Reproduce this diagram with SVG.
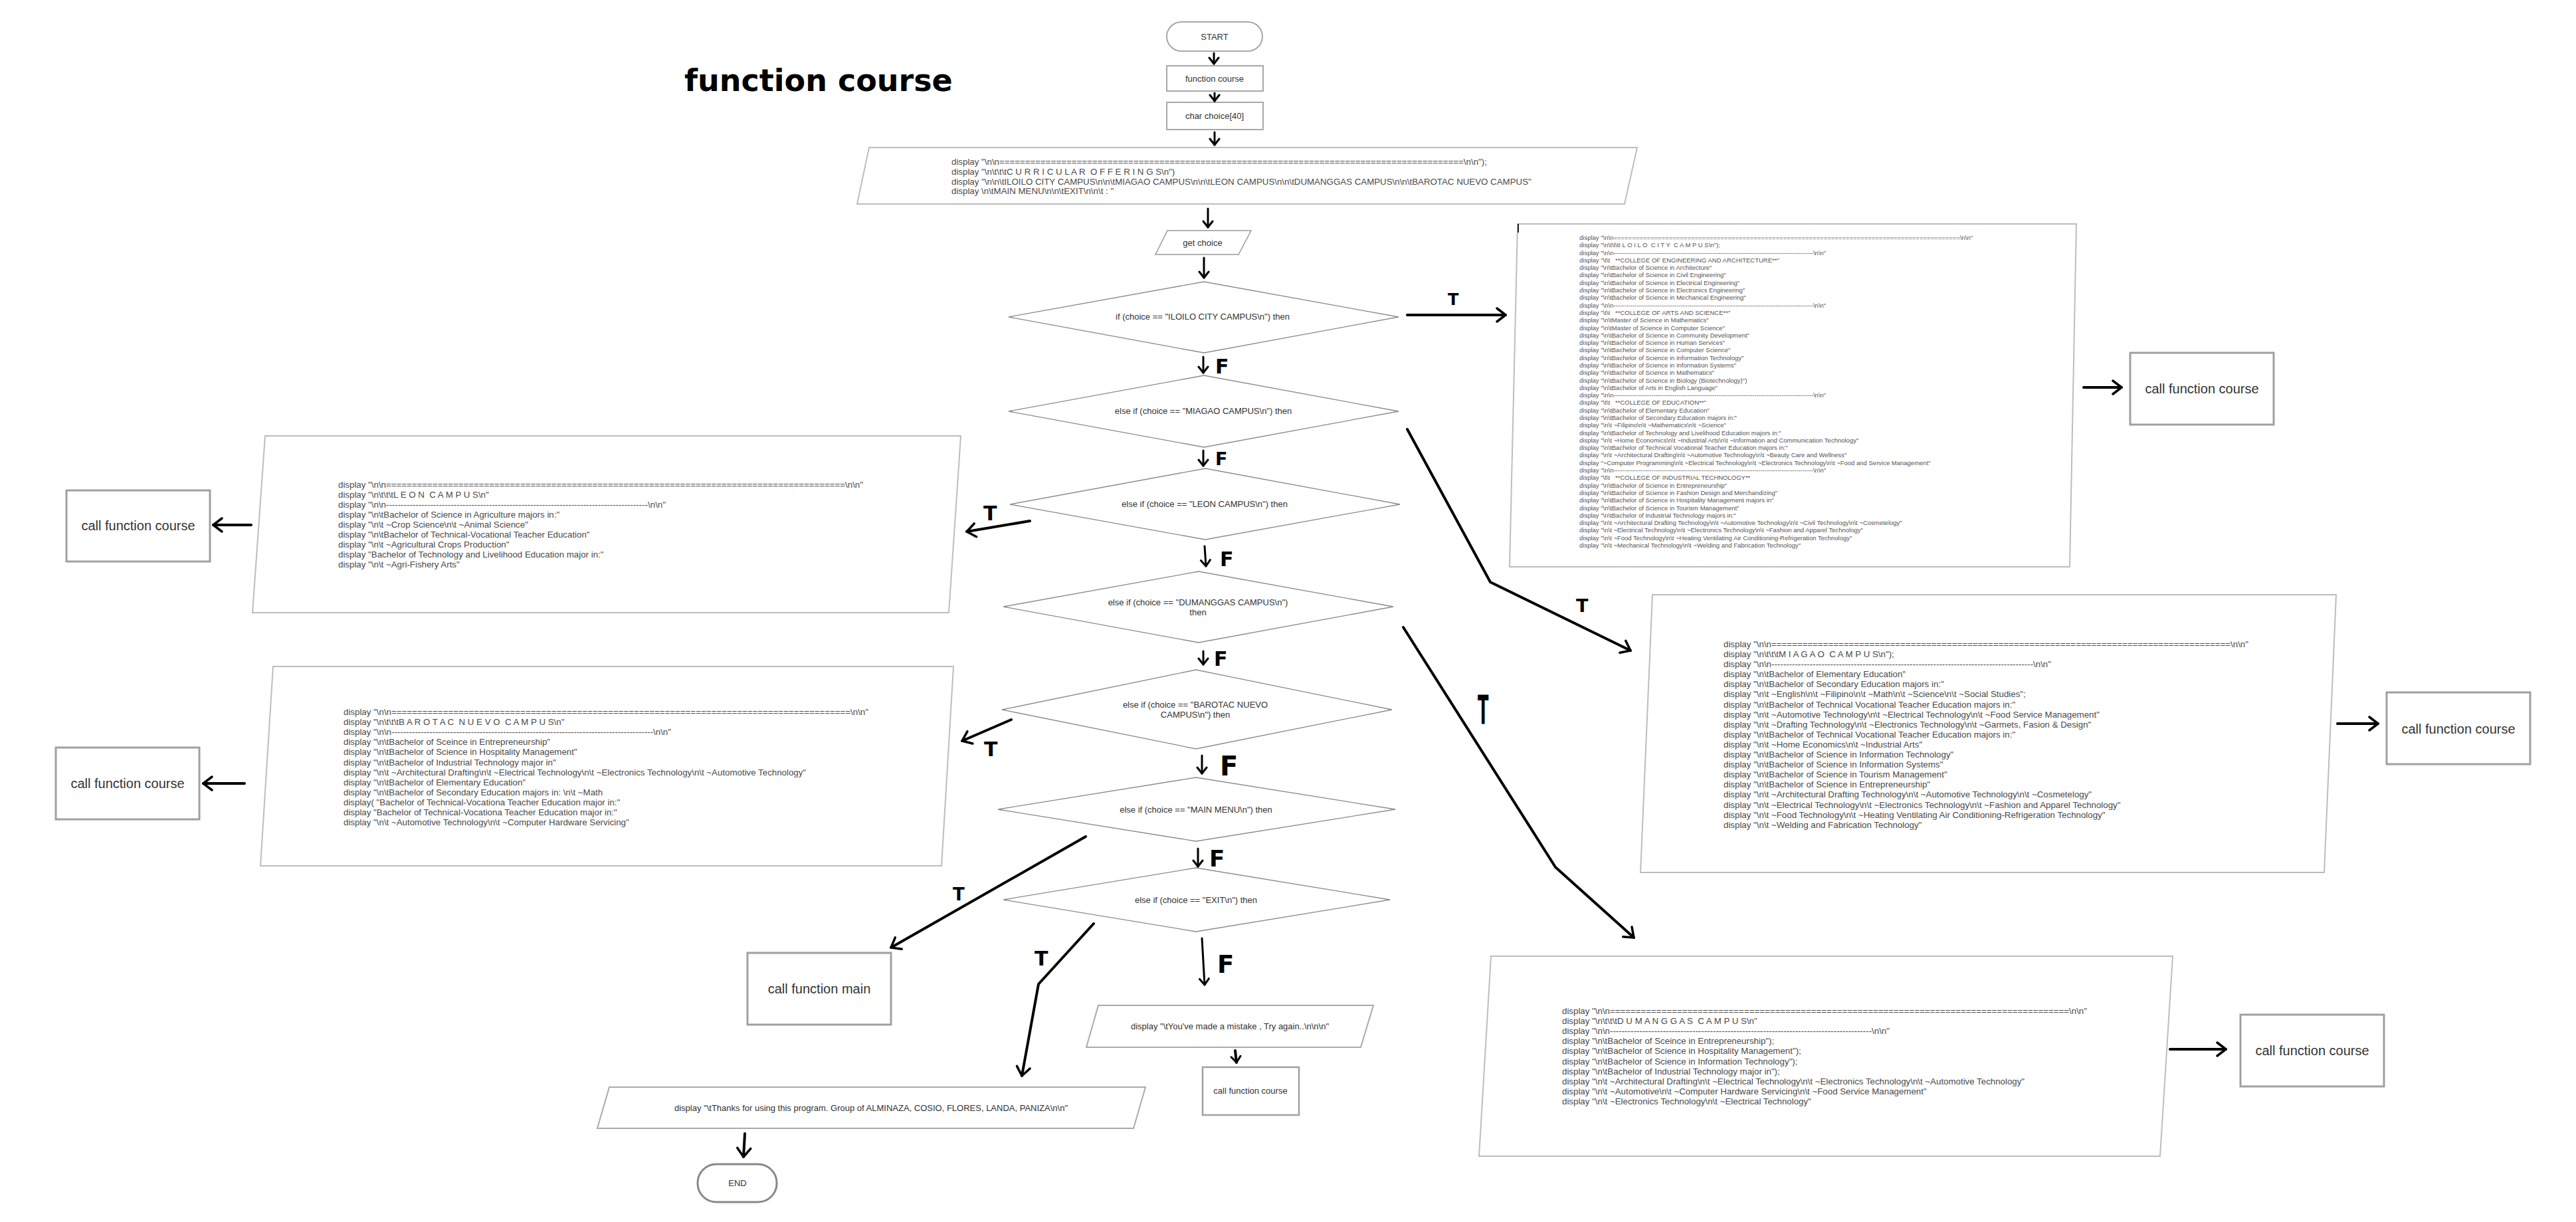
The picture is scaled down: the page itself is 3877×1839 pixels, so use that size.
<svg xmlns="http://www.w3.org/2000/svg" width="3877" height="1839" viewBox="0 0 3877 1839">
<style>
text{font-family:"Liberation Sans",Arial,sans-serif;}
.s{font-size:13px;fill:#333;}
.c{text-anchor:middle;}
.d{font-size:13.3px;fill:#4a4a4a;}
.d9{font-size:9.5px;fill:#555;}
.big{font-size:20px;fill:#333;text-anchor:middle;}
.box{fill:#fff;stroke:#a8a8a8;stroke-width:2;}
.cbox{fill:#fff;stroke:#a0a0a0;stroke-width:3;}
.dia{fill:#fff;stroke:#8a8a8a;stroke-width:1.3;}
.io{fill:#fff;stroke:#bdbdbd;stroke-width:2;}
.conn{fill:none;stroke:#000;stroke-width:4;stroke-linecap:round;stroke-linejoin:round;}
.thin{fill:none;stroke:#000;stroke-width:3;stroke-linecap:round;stroke-linejoin:round;}
.lab{font-family:"DejaVu Sans",sans-serif;font-weight:bold;fill:#000;}
.title{font-family:"DejaVu Sans",sans-serif;font-weight:bold;font-size:46px;fill:#000;}
</style>
<defs>
<marker id="ah" viewBox="-16 -12 20 24" refX="0" refY="0" markerWidth="20" markerHeight="24" markerUnits="userSpaceOnUse" orient="auto">
<path d="M-13,-10 L0,0 L-13,10" fill="none" stroke="#000" stroke-width="3.5" stroke-linecap="round" stroke-linejoin="round"/>
</marker>
<marker id="as" viewBox="-12 -9 15 18" refX="0" refY="0" markerWidth="15" markerHeight="18" markerUnits="userSpaceOnUse" orient="auto">
<path d="M-9,-7 L0,0 L-9,7" fill="none" stroke="#000" stroke-width="3" stroke-linecap="round" stroke-linejoin="round"/>
</marker>
</defs>
<rect width="3877" height="1839" fill="#fff"/>

<text class="title" x="1030" y="137">function course</text>

<g id="start">
<rect class="box" x="1756" y="33" width="144" height="44" rx="22"/>
<text class="s c" x="1828" y="59.5">START</text>
</g>
<g id="func">
<rect class="box" x="1756" y="99" width="145" height="38"/>
<text class="s c" x="1828" y="122.5">function course</text>
</g>
<g id="char">
<rect class="box" x="1756" y="154" width="145" height="41"/>
<text class="s c" x="1828" y="179">char choice[40]</text>
</g>
<g id="menu">
<polygon class="io" points="1308,222 2464,222 2445,307 1290,307"/>
<text class="d" x="1432" y="247.5">display "\n\n==========================================================================================\n\n");</text>
<text class="d" x="1432" y="262.5">display "\n\t\t\tC U R R I C U L A R&#160; O F F E R I N G S\n")</text>
<text class="d" x="1432" y="277.5">display "\n\n\tILOILO CITY CAMPUS\n\n\tMIAGAO CAMPUS\n\n\tLEON CAMPUS\n\n\tDUMANGGAS CAMPUS\n\n\tBAROTAC NUEVO CAMPUS"</text>
<text class="d" x="1432" y="292">display \n\tMAIN MENU\n\n\tEXIT\n\n\t : "</text>
</g>
<g id="get">
<polygon class="io" points="1757,347 1883,347 1864,383 1739,383" style="stroke:#999;stroke-width:1.5"/>
<text class="s c" x="1810" y="370">get choice</text>
</g>

<g id="d1"><polygon class="dia" points="1518,477 1812,424 2105,477 1812,531"/><text class="s c" x="1810" y="481">if (choice == "ILOILO CITY CAMPUS\n") then</text></g>
<g id="d2"><polygon class="dia" points="1518,619 1812,565 2105,619 1812,673"/><text class="s c" x="1811" y="623">else if (choice == "MIAGAO CAMPUS\n") then</text></g>
<g id="d3"><polygon class="dia" points="1520,759 1814,705 2107,759 1814,812"/><text class="s c" x="1813" y="763">else if (choice == "LEON CAMPUS\n") then</text></g>
<g id="d4"><polygon class="dia" points="1510,913 1804,860 2097,913 1804,967"/><text class="s c" x="1803" y="911">else if (choice == "DUMANGGAS CAMPUS\n")</text><text class="s c" x="1803" y="926">then</text></g>
<g id="d5"><polygon class="dia" points="1508,1068 1800,1008 2095,1068 1800,1127"/><text class="s c" x="1799" y="1065">else if (choice == "BAROTAC NUEVO</text><text class="s c" x="1799" y="1080">CAMPUS\n") then</text></g>
<g id="d6"><polygon class="dia" points="1502,1218 1800,1170 2100,1218 1800,1266"/><text class="s c" x="1800" y="1223">else if (choice == "MAIN MENU\n") then</text></g>
<g id="d7"><polygon class="dia" points="1510,1354 1800,1306 2092,1354 1800,1402"/><text class="s c" x="1800" y="1359">else if (choice == "EXIT\n") then</text></g>

<g id="iloilo">
<polygon class="io" points="2284,337 3125,337 3115,853 2272,853"/>
<line x1="2285" y1="337" x2="2285" y2="350" stroke="#222" stroke-width="2"/>
<g class="d9">
<text x="2377" y="361">display "\n\n==============================================================================================\n\n"</text>
<text x="2377" y="372.3">display "\n\t\t\tI L O I L O&#160; C I T Y&#160; C A M P U S\n");</text>
<text x="2377" y="383.6">display "\n\n-----------------------------------------------------------------------------------------------\n\n"</text>
<text x="2377" y="394.9">display "\t\t&#160;&#160; **COLLEGE OF ENGINEERING AND ARCHITECTURE**"</text>
<text x="2377" y="406.2">display "\n\tBachelor of Science in Architecture"</text>
<text x="2377" y="417.4">display "\n\tBachelor of Science in Civil Engineering"</text>
<text x="2377" y="428.7">display "\n\tBachelor of Science in Electrical Engineering"</text>
<text x="2377" y="440">display "\n\tBachelor of Science in Electronics Engineering"</text>
<text x="2377" y="451.3">display "\n\tBachelor of Science in Mechanical Engineering"</text>
<text x="2377" y="462.6">display "\n\n-----------------------------------------------------------------------------------------------\n\n"</text>
<text x="2377" y="473.9">display "\t\t&#160;&#160; **COLLEGE OF ARTS AND SCIENCE**"</text>
<text x="2377" y="485.2">display "\n\tMaster of Science in Mathematics"</text>
<text x="2377" y="496.5">display "\n\tMaster of Science in Computer Science"</text>
<text x="2377" y="507.8">display "\n\tBachelor of Science in Community Development"</text>
<text x="2377" y="519.1">display "\n\tBachelor of Science in Human Services"</text>
<text x="2377" y="530.4">display "\n\tBachelor of Science in Computer Science"</text>
<text x="2377" y="541.6">display "\n\tBachelor of Science in Information Technology"</text>
<text x="2377" y="552.9">display "\n\tBachelor of Science in Information Systems"</text>
<text x="2377" y="564.2">display "\n\tBachelor of Science in Mathematics"</text>
<text x="2377" y="575.5">display "\n\tBachelor of Science in Biology (Biotechnology)")</text>
<text x="2377" y="586.8">display "\n\tBachelor of Arts in English Language"</text>
<text x="2377" y="598.1">display "\n\n-----------------------------------------------------------------------------------------------\n\n"</text>
<text x="2377" y="609.4">display "\t\t&#160;&#160; **COLLEGE OF EDUCATION**"</text>
<text x="2377" y="620.7">display "\n\tBachelor of Elementary Education"</text>
<text x="2377" y="632">display "\n\tBachelor of Secondary Education majors in:"</text>
<text x="2377" y="643.3">display "\n\t ~Filipino\n\t ~Mathematics\n\t ~Science"</text>
<text x="2377" y="654.6">display "\n\tBachelor of Technology and Livelihood Education majors in:"</text>
<text x="2377" y="665.8">display "\n\t ~Home Economics\n\t ~Industrial Arts\n\t ~Information and Communication Technology"</text>
<text x="2377" y="677.1">display "\n\tBachelor of Technical Vocational Teacher Education majors in:"</text>
<text x="2377" y="688.4">display "\n\t ~Architectural Drafting\n\t ~Automotive Technology\n\t ~Beauty Care and Wellness"</text>
<text x="2377" y="699.7">display "~Computer Programming\n\t ~Electrical Technology\n\t ~Electronics Technology\n\t ~Food and Service Management"</text>
<text x="2377" y="711">display "\n\n-----------------------------------------------------------------------------------------------\n\n"</text>
<text x="2377" y="722.3">display "\t\t&#160;&#160; **COLLEGE OF INDUSTRIAL TECHNOLOGY**</text>
<text x="2377" y="733.6">display "\n\tBachelor of Science in Entrepreneurship"</text>
<text x="2377" y="744.9">display "\n\tBachelor of Science in Fashion Design and Merchandizing"</text>
<text x="2377" y="756.2">display "\n\tBachelor of Science in Hospitality Management majors in"</text>
<text x="2377" y="767.5">display "\n\tBachelor of Science in Tourism Management"</text>
<text x="2377" y="778.8">display "\n\tBachelor of Industrial Technology majors in:"</text>
<text x="2377" y="790">display "\n\t ~Architectural Drafting Technology\n\t ~Automotive Technology\n\t ~Civil Technology\n\t ~Cosmetelogy"</text>
<text x="2377" y="801.3">display "\n\t ~Electrical Technology\n\t ~Electronics Technology\n\t ~Fashion and Apparel Technology"</text>
<text x="2377" y="812.6">display "\n\t ~Food Technology\n\t ~Heating Ventilating Air Conditioning-Refrigeration Technology"</text>
<text x="2377" y="823.9">display "\n\t ~Mechanical Technology\n\t ~Welding and Fabrication Technology"</text>
</g>
</g>
<g id="call-iloilo"><rect class="cbox" x="3206" y="531" width="216" height="108"/><text class="big" x="3314" y="592">call function course</text></g>

<g id="miagao">
<polygon class="io" points="2487,895 3516,895 3498,1313 2469,1313"/>
<g class="d">
<text x="2594" y="974">display "\n\n=========================================================================================\n\n"</text>
<text x="2594" y="989">display "\n\t\t\tM I A G A O&#160; C A M P U S\n");</text>
<text x="2594" y="1004.1">display "\n\n-----------------------------------------------------------------------------------------\n\n"</text>
<text x="2594" y="1019.2">display "\n\tBachelor of Elementary Education"</text>
<text x="2594" y="1034.3">display "\n\tBachelor of Secondary Education majors in:"</text>
<text x="2594" y="1049.4">display "\n\t ~English\n\t ~Filipino\n\t ~Math\n\t ~Science\n\t ~Social Studies";</text>
<text x="2594" y="1064.5">display "\n\tBachelor of Technical Vocational Teacher Education majors in:"</text>
<text x="2594" y="1079.6">display "\n\t ~Automotive Technology\n\t ~Electrical Technology\n\t ~Food Service Management"</text>
<text x="2594" y="1094.7">display "\n\t ~Drafting Technology\n\t ~Electronics Technology\n\t ~Garmets, Fasion &amp; Design"</text>
<text x="2594" y="1109.8">display "\n\tBachelor of Technical Vocational Teacher Education majors in:"</text>
<text x="2594" y="1124.9">display "\n\t ~Home Economics\n\t ~Industrial Arts"</text>
<text x="2594" y="1140">display "\n\tBachelor of Science in Information Technology"</text>
<text x="2594" y="1155.1">display "\n\tBachelor of Science in Information Systems"</text>
<text x="2594" y="1170.2">display "\n\tBachelor of Science in Tourism Management"</text>
<text x="2594" y="1185.3">display "\n\tBachelor of Science in Entrepreneurship"</text>
<text x="2594" y="1200.4">display "\n\t ~Architectural Drafting Technology\n\t ~Automotive Technology\n\t ~Cosmetelogy"</text>
<text x="2594" y="1215.5">display "\n\t ~Electrical Technology\n\t ~Electronics Technology\n\t ~Fashion and Apparel Technology"</text>
<text x="2594" y="1230.6">display "\n\t ~Food Technology\n\t ~Heating Ventilating Air Conditioning-Refrigeration Technology"</text>
<text x="2594" y="1245.7">display "\n\t ~Welding and Fabrication Technology"</text>
</g>
</g>
<g id="call-miagao"><rect class="cbox" x="3592" y="1042" width="216" height="108"/><text class="big" x="3700" y="1104">call function course</text></g>

<g id="leon">
<polygon class="io" points="399,656 1446,656 1428,922 380,922"/>
<g class="d">
<text x="509" y="734">display "\n\n=========================================================================================\n\n"</text>
<text x="509" y="749">display "\n\t\t\tL E O N&#160; C A M P U S\n"</text>
<text x="509" y="764">display "\n\n-----------------------------------------------------------------------------------------\n\n"</text>
<text x="509" y="779">display "\n\tBachelor of Science in Agriculture majors in:"</text>
<text x="509" y="794">display "\n\t ~Crop Science\n\t ~Animal Science"</text>
<text x="509" y="809">display "\n\tBachelor of Technical-Vocational Teacher Education"</text>
<text x="509" y="824">display "\n\t ~Agricultural Crops Production"</text>
<text x="509" y="839">display "Bachelor of Technology and Livelihood Education major in:"</text>
<text x="509" y="854">display "\n\t ~Agri-Fishery Arts"</text>
</g>
</g>
<g id="call-leon"><rect class="cbox" x="100" y="738" width="216" height="107"/><text class="big" x="208" y="798">call function course</text></g>

<g id="barotac">
<polygon class="io" points="411,1003 1435,1003 1417,1303 392,1303"/>
<g class="d">
<text x="517" y="1076">display "\n\n=========================================================================================\n\n"</text>
<text x="517" y="1091.1">display "\n\t\t\tB A R O T A C&#160; N U E V O&#160; C A M P U S\n"</text>
<text x="517" y="1106.2">display "\n\n-----------------------------------------------------------------------------------------\n\n"</text>
<text x="517" y="1121.3">display "\n\tBachelor of Sceince in Entrepreneurship"</text>
<text x="517" y="1136.4">display "\n\tBachelor of Science in Hospitality Management"</text>
<text x="517" y="1151.5">display "\n\tBachelor of Industrial Technology major in"</text>
<text x="517" y="1166.6">display "\n\t ~Architectural Drafting\n\t ~Electrical Technology\n\t ~Electronics Technology\n\t ~Automotive Technology"</text>
<text x="517" y="1181.7">display "\n\tBachelor of Elementary Education"</text>
<text x="517" y="1196.8">display "\n\tBachelor of Secondary Education majors in: \n\t ~Math</text>
<text x="517" y="1211.9">display( "Bachelor of Technical-Vocationa Teacher Education major in:"</text>
<text x="517" y="1227">display "Bachelor of Technical-Vocationa Teacher Education major in:"</text>
<text x="517" y="1242.1">display "\n\t ~Automotive Technology\n\t ~Computer Hardware Servicing"</text>
</g>
</g>
<g id="call-barotac"><rect class="cbox" x="84" y="1125" width="216" height="108"/><text class="big" x="192" y="1186">call function course</text></g>

<g id="dumanggas">
<polygon class="io" points="2244,1439 3270,1439 3251,1740 2226,1740"/>
<g class="d">
<text x="2351" y="1526">display "\n\n=========================================================================================\n\n"</text>
<text x="2351" y="1541.1">display "\n\t\t\tD U M A N G G A S&#160; C A M P U S\n"</text>
<text x="2351" y="1556.2">display "\n\n-----------------------------------------------------------------------------------------\n\n"</text>
<text x="2351" y="1571.3">display "\n\tBachelor of Sceince in Entrepreneurship");</text>
<text x="2351" y="1586.4">display "\n\tBachelor of Science in Hospitality Management");</text>
<text x="2351" y="1601.5">display "\n\tBachelor of Science in Information Technology");</text>
<text x="2351" y="1616.6">display "\n\tBachelor of Industrial Technology major in");</text>
<text x="2351" y="1631.7">display "\n\t ~Architectural Drafting\n\t ~Electrical Technology\n\t ~Electronics Technology\n\t ~Automotive Technology"</text>
<text x="2351" y="1646.8">display "\n\t ~Automotive\n\t ~Computer Hardware Servicing\n\t ~Food Service Management"</text>
<text x="2351" y="1661.9">display "\n\t ~Electronics Technology\n\t ~Electrical Technology"</text>
</g>
</g>
<g id="call-dumanggas"><rect class="cbox" x="3372" y="1527" width="216" height="108"/><text class="big" x="3480" y="1588">call function course</text></g>

<g id="call-main"><rect class="cbox" x="1125" y="1434" width="216" height="108"/><text class="big" x="1233" y="1495">call function main</text></g>

<g id="mistake">
<polygon class="io" points="1653,1513 2067,1513 2048,1576 1635,1576" style="stroke:#aaa"/>
<text class="s c" x="1851" y="1549">display "\tYou've made a mistake , Try again..\n\n\n"</text>
</g>
<g id="call-course"><rect class="cbox" x="1810" y="1606" width="145" height="72" style="stroke-width:2.5"/><text class="s c" x="1882" y="1646">call function course</text></g>

<g id="thanks">
<polygon class="io" points="917,1636 1724,1636 1706,1698 899,1698" style="stroke:#aaa"/>
<text class="s c" x="1311" y="1672">display "\tThanks for using this program. Group of ALMINAZA, COSIO, FLORES, LANDA, PANIZA\n\n"</text>
</g>
<g id="end">
<rect x="1050" y="1752" width="119" height="57" rx="28" fill="#fff" stroke="#888" stroke-width="3"/>
<text class="s c" x="1110" y="1785">END</text>
</g>

<g id="connectors">
<path class="thin" d="M1827,80 L1827,96" marker-end="url(#as)"/>
<path class="thin" d="M1828,140 L1828,152" marker-end="url(#as)"/>
<path class="thin" d="M1828,199 L1828,218" marker-end="url(#as)"/>
<path class="thin" d="M1818,314 L1818,342" marker-end="url(#as)"/>
<path class="thin" d="M1812,388 L1812,418" marker-end="url(#as)"/>
<path class="thin" d="M1811,537 L1811,561" marker-end="url(#as)"/>
<path class="thin" d="M1811,678 L1811,701" marker-end="url(#as)"/>
<path class="thin" d="M1813,822 L1815,852" marker-end="url(#as)"/>
<path class="thin" d="M1811,980 L1811,1000" marker-end="url(#as)"/>
<path class="thin" d="M1809,1137 L1809,1164" marker-end="url(#as)"/>
<path class="thin" d="M1803,1277 L1803,1304" marker-end="url(#as)"/>
<path class="thin" d="M1809,1412 L1813,1482" marker-end="url(#as)"/>
<path class="conn" d="M1859,1581 L1861,1599" marker-end="url(#as)"/>
<path class="conn" d="M2118,474 L2266,474" marker-end="url(#ah)"/>
<path class="conn" d="M3136,583 L3193,583" marker-end="url(#ah)"/>
<path class="conn" d="M2118,646 L2243,876 L2454,979" marker-end="url(#ah)"/>
<path class="conn" d="M3518,1089 L3579,1089" marker-end="url(#ah)"/>
<path class="conn" d="M1550,784 L1455,800" marker-end="url(#ah)"/>
<path class="conn" d="M378,790 L321,790" marker-end="url(#ah)"/>
<path class="conn" d="M1522,1083 L1448,1115" marker-end="url(#ah)"/>
<path class="conn" d="M368,1179 L306,1179" marker-end="url(#ah)"/>
<path class="conn" d="M2112,944 L2341,1305 L2459,1411" marker-end="url(#ah)"/>
<path class="conn" d="M3266,1579 L3350,1579" marker-end="url(#ah)"/>
<path class="conn" d="M1634,1259 L1341,1426" marker-end="url(#ah)"/>
<path class="conn" d="M1646,1390 L1563,1481 L1538,1619" marker-end="url(#ah)"/>
<path class="conn" d="M1121,1706 L1119,1741" marker-end="url(#ah)"/>
</g>

<g id="labels">
<text class="lab" x="1829" y="562" font-size="30">F</text>
<text class="lab" x="1829" y="700" font-size="27">F</text>
<text class="lab" x="1836" y="852" font-size="30">F</text>
<text class="lab" x="1827" y="1002" font-size="30">F</text>
<text class="lab" x="1836" y="1167" font-size="40">F</text>
<text class="lab" x="1820" y="1304" font-size="34">F</text>
<text class="lab" x="1832" y="1464" font-size="37">F</text>
<text class="lab" x="2179" y="459" font-size="24">T</text>
<text class="lab" x="2372" y="921" font-size="27">T</text>
<text class="lab" x="1480" y="783" font-size="30">T</text>
<text class="lab" x="1481" y="1138" font-size="30">T</text>
<text class="lab" transform="translate(2224,1090) scale(0.8,2)" font-size="30">T</text>
<text class="lab" x="1434" y="1355" font-size="26">T</text>
<text class="lab" x="1557" y="1453" font-size="30">T</text>
</g>
</svg>
